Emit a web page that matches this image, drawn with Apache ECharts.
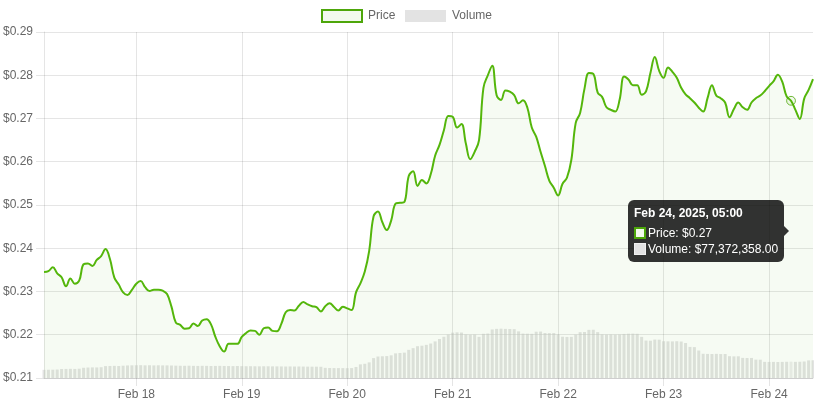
<!DOCTYPE html>
<html><head><meta charset="utf-8">
<script src="https://cdn.jsdelivr.net/npm/echarts@6/dist/echarts.min.js"></script>
<style>html,body{margin:0;padding:0;background:#fff}#c{width:814px;height:407px}</style>
</head><body><div id="c"></div>
<script>
// ---- data ----
const startTime = Date.UTC(2025, 1, 17, 3, 0); // first hourly point: Feb 17, 2025 03:00
const price = [
0.2345,0.2347,0.2356,0.2342,0.2333,0.2312,0.2330,0.2318,0.2325,0.2363,
0.2365,0.2359,0.2373,0.2382,0.2398,0.2375,0.2332,0.2316,0.2298,0.2292,
0.2304,0.2318,0.2324,0.2310,0.2301,0.2304,0.2304,0.2302,0.2294,0.2265,
0.2228,0.2223,0.2214,0.2215,0.2226,0.2220,0.2233,0.2236,0.2224,0.2195,
0.2173,0.2161,0.2179,0.2179,0.2179,0.2195,0.2204,0.2210,0.2209,0.2200,
0.2215,0.2217,0.2209,0.2208,0.2225,0.2252,0.2257,0.2256,0.2267,0.2276,
0.2270,0.2266,0.2264,0.2254,0.2266,0.2273,0.2264,0.2256,0.2265,0.2261,
0.2257,0.2298,0.2319,0.2346,0.2394,0.2474,0.2485,0.2460,0.2442,0.2464,
0.2503,0.2505,0.2507,0.2567,0.2578,0.2544,0.2558,0.2550,0.2571,0.2614,
0.2639,0.2673,0.2706,0.2704,0.2679,0.2687,0.2642,0.2606,0.2623,0.2650,
0.2771,0.2800,0.2822,0.2754,0.2743,0.2765,0.2762,0.2754,0.2735,0.2742,
0.2725,0.2679,0.2658,0.2623,0.2590,0.2556,0.2540,0.2522,0.2549,0.2563,
0.2604,0.2690,0.2713,0.2769,0.2805,0.2803,0.2760,0.2750,0.2726,0.2720,
0.2716,0.2744,0.2797,0.2790,0.2777,0.2777,0.2755,0.2763,0.2805,0.2842,
0.2810,0.2794,0.2818,0.2808,0.2794,0.2771,0.2756,0.2747,0.2737,0.2725,
0.2716,0.2747,0.2777,0.2753,0.2747,0.2737,0.2703,0.2722,0.2737,0.2726,
0.2720,0.2737,0.2747,0.2753,0.2763,0.2775,0.2786,0.2801,0.2785,0.2751,
0.2741,0.2720,0.2699,0.2746,0.2766,0.2791
];
// hourly volume in millions of USD
const volumeM = [
38.6,39.2,39.5,40.1,42.8,43.1,43.4,43.0,44.2,48.5,
49.6,50.3,50.1,51.2,56.4,57.1,57.5,57.0,58.3,59.6,
60.2,60.5,60.8,60.1,60.4,59.9,60.3,59.8,60.0,59.2,
58.6,58.1,57.9,58.2,57.6,57.3,57.8,57.5,57.0,57.2,
57.6,57.1,56.8,56.5,56.9,56.2,55.8,56.0,55.7,55.4,
55.9,55.6,55.1,55.3,54.8,54.6,54.9,54.4,54.7,54.2,
54.0,53.8,53.6,53.2,48.1,47.6,47.2,47.0,46.8,46.5,
47.3,52.4,64.8,67.5,74.1,94.6,101.8,103.2,104.0,107.3,
116.9,118.8,120.5,133.7,141.6,150.9,153.4,157.2,163.5,173.8,
185.1,195.6,206.3,215.4,216.8,215.9,207.2,205.6,206.4,195.3,
209.8,211.2,230.5,233.4,234.1,233.0,232.6,231.8,221.4,210.7,
210.2,209.5,219.6,220.3,213.7,212.9,213.2,206.1,195.8,194.9,
195.2,205.7,217.6,218.4,228.3,228.9,218.0,206.8,205.9,206.2,
205.5,206.4,209.1,210.3,210.6,209.8,195.4,177.6,176.9,182.3,
181.7,174.5,174.1,173.8,174.6,173.2,166.0,147.5,146.8,130.4,
114.9,114.2,113.8,114.5,113.6,113.9,103.5,102.8,103.1,95.4,
94.8,95.1,87.3,86.9,76.8,76.2,76.5,76.0,76.4,76.9,
77.372358,76.7,77.1,78.4,83.6,84.2
];
const hoverIndex = 170;            // Feb 24, 2025, 05:00
const priceMin = 0.21, priceMax = 0.29, priceStep = 0.01;
const volumeAxisMax = 1642e6;
const monthNames = ['Jan','Feb','Mar','Apr','May','Jun','Jul','Aug','Sep','Oct','Nov','Dec'];

// ---- derived ----
const volume = volumeM.map(v => Math.round(v * 1e6));
const times = price.map((_, i) => startTime + i * 3600000);
const categories = times.map(t => String(t));
const isMidnight = (idx) => new Date(times[idx]).getUTCHours() === 0;
const pad = n => (n < 10 ? '0' : '') + n;
const dayLabel = t => { const d = new Date(t); return monthNames[d.getUTCMonth()] + ' ' + d.getUTCDate(); };
const fullLabel = t => { const d = new Date(t); return monthNames[d.getUTCMonth()] + ' ' + d.getUTCDate() + ', ' + d.getUTCFullYear() + ', ' + pad(d.getUTCHours()) + ':' + pad(d.getUTCMinutes()); };

const FONT = "'Liberation Sans', Arial, Helvetica, sans-serif";
const GREEN = '#4da60a';
const GREEN_FILL = 'rgba(77,166,10,0.07)';
const GRAY_BAR = 'rgba(200,200,200,0.5)';
const GRID = 'rgba(0,0,0,0.1)';

const chart = echarts.init(document.getElementById('c'), null, {renderer: 'canvas'});
const option = {
  animation: false,
  textStyle: {fontFamily: FONT},
  grid: {left: 44, right: 1, top: 32, bottom: 29, containLabel: false},
  graphic: [
    {type: 'rect', shape: {x: 322, y: 10, width: 40, height: 12}, style: {fill: GREEN_FILL, stroke: GREEN, lineWidth: 2}},
    {type: 'text', x: 368, y: 16, style: {text: 'Price', fill: '#666', font: '12px ' + FONT, verticalAlign: 'middle'}},
    {type: 'rect', shape: {x: 405, y: 10, width: 41, height: 12}, style: {fill: GRAY_BAR}},
    {type: 'text', x: 452, y: 16, style: {text: 'Volume', fill: '#666', font: '12px ' + FONT, verticalAlign: 'middle'}}
  ],
  xAxis: {
    type: 'category',
    data: categories,
    boundaryGap: false,
    axisLine: {show: true, lineStyle: {color: GRID}},
    axisTick: {show: true, length: 8, interval: (i) => isMidnight(i), lineStyle: {color: GRID}},
    splitLine: {show: true, interval: (i) => isMidnight(i), lineStyle: {color: GRID}},
    axisLabel: {interval: (i) => isMidnight(i), formatter: (v) => dayLabel(Number(v)), color: '#666', fontSize: 12, fontFamily: FONT, margin: 11}
  },
  yAxis: [
    {
      type: 'value', min: priceMin, max: priceMax, interval: priceStep,
      axisLine: {show: true, lineStyle: {color: GRID}},
      axisTick: {show: true, length: 8, lineStyle: {color: GRID}},
      splitLine: {show: true, lineStyle: {color: GRID}},
      axisLabel: {formatter: (v) => '$' + v.toFixed(2), color: '#666', fontSize: 12, fontFamily: FONT, margin: 11}
    },
    {type: 'value', min: 0, max: volumeAxisMax, show: false, splitLine: {show: false}}
  ],
  tooltip: {
    trigger: 'axis',
    triggerOn: 'none',
    alwaysShowContent: true,
    transitionDuration: 0,
    axisPointer: {type: 'none'},
    backgroundColor: 'rgba(0,0,0,0.8)',
    borderWidth: 0,
    borderRadius: 6,
    padding: 6,
    extraCssText: 'box-shadow:none;',
    textStyle: {color: '#fff', fontSize: 12, fontFamily: FONT},
    position: function (point, params, dom, rect, size) {
      const p = chart.convertToPixel({gridIndex: 0}, [hoverIndex, price[hoverIndex]]);
      const v = chart.convertToPixel({seriesIndex: 0}, [hoverIndex, volume[hoverIndex]]);
      const w = size.contentSize[0], h = size.contentSize[1];
      const cy = (p[1] + v[1]) / 2;
      return [p[0] - 7 - w, cy - h / 2];
    },
    formatter: function () {
      const i = hoverIndex;
      const row = 'display:flex;align-items:center;line-height:14px;height:14px;white-space:nowrap;';
      return '<div style="position:relative;font-family:' + FONT.replace(/'/g, '') + ';font-size:12px;color:#fff;">' +
        '<div style="font-weight:bold;line-height:14px;margin-bottom:6px;white-space:nowrap;">' + fullLabel(times[i]) + '</div>' +
        '<div style="' + row + 'margin-bottom:2px;"><span style="display:inline-block;box-sizing:border-box;width:12px;height:12px;border:2px solid ' + GREEN + ';background:#f3f9ee;margin-right:2px;"></span>Price: $' + price[i].toFixed(2) + '</div>' +
        '<div style="' + row + '"><span style="display:inline-block;box-sizing:border-box;width:12px;height:12px;border:1px solid #f0f0f0;background:#e2e2e2;margin-right:2px;"></span>Volume: $' +
          volume[i].toLocaleString('en-US', {minimumFractionDigits: 2, maximumFractionDigits: 2}) + '</div>' +
        '<div style="position:absolute;right:-11px;top:50%;margin-top:-5px;width:0;height:0;border-left:5px solid rgba(0,0,0,0.8);border-top:5px solid transparent;border-bottom:5px solid transparent;"></div>' +
        '</div>';
    }
  },
  series: [
    {
      name: 'Volume', type: 'bar', yAxisIndex: 1, data: volume,
      barWidth: 3, clip: true, silent: true,
      itemStyle: {color: GRAY_BAR}, z: 1
    },
    {
      name: 'Price', type: 'line', yAxisIndex: 0, data: price,
      smooth: 0.4, symbol: 'none', silent: true,
      lineStyle: {color: GREEN, width: 2},
      areaStyle: {color: GREEN_FILL, origin: 'start'},
      z: 2
    },
    {
      name: 'hover', type: 'scatter', yAxisIndex: 0, silent: true,
      data: price.map((p, i) => (i === hoverIndex ? p : '-')),
      symbol: 'circle', symbolSize: 8,
      itemStyle: {color: 'rgba(77,166,10,0.1)', borderColor: GREEN, borderWidth: 1},
      z: 3
    }
  ]
};
chart.setOption(option);
chart.dispatchAction({type: 'showTip', seriesIndex: 1, dataIndex: hoverIndex});
</script>
</body></html>
